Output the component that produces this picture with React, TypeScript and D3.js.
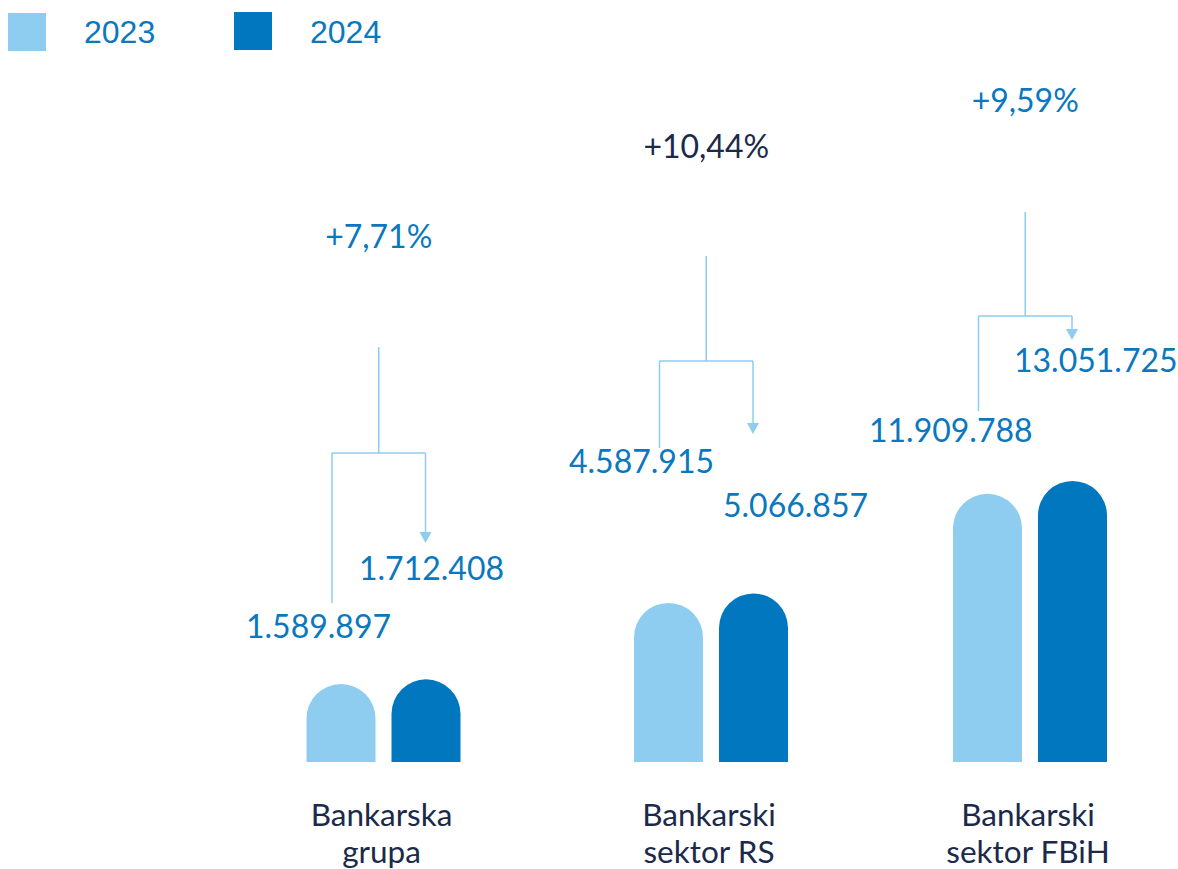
import React from "react";
import * as d3 from "d3";

const categories = ["Bankarska grupa", "Bankarski sektor RS", "Bankarski sektor FBiH"];
const categoryLines = [["Bankarska", "grupa"], ["Bankarski", "sektor RS"], ["Bankarski", "sektor FBiH"]];
const years = ["2023", "2024"];
const values2023 = [1589897, 4587915, 11909788];
const values2024 = [1712408, 5066857, 13051725];
const valueLabels2023 = ["1.589.897", "4.587.915", "11.909.788"];
const valueLabels2024 = ["1.712.408", "5.066.857", "13.051.725"];
const changeLabels = ["+7,71%", "+10,44%", "+9,59%"];

// layout (pixel positions, not data)
const groupCenters = [383.5, 711, 1030];
const annoLayout = [
  { pctY: 248, stemTop: 347, branchY: 453, leftBottom: 603, arrowTip: 543, l23: [246, 638], l24: [359, 580], pctColor: "#0a78be" },
  { pctY: 158, stemTop: 256, branchY: 361, leftBottom: 448, arrowTip: 434, l23: [569, 473], l24: [723, 517], pctColor: "#1b2a4a" },
  { pctY: 112, stemTop: 212, branchY: 316, leftBottom: 411, arrowTip: 340, l23: [869, 442], l24: [1014, 372], pctColor: "#0a78be" },
];

const W = 1178;
const H = 869;
const LIGHT = "#8ecdf0";
const DARK = "#0077be";
const TEXTBLUE = "#0a78be";
const NAVY = "#1b2a4a";
const BASE = 762;
const BW = 69;
const GAP = 16;

export default function App() {
  const x = d3.scaleOrdinal<string, number>().domain(categories).range(groupCenters);
  const all = [...values2023, ...values2024];
  const h = d3.scalePow().exponent(0.4).domain([d3.min(all)!, d3.max(all)!]).range([78, 281]);

  const barPath = (x0: number, v: number) => {
    const top = BASE - h(v);
    const r = BW / 2;
    const p = d3.path();
    p.moveTo(x0, BASE);
    p.lineTo(x0, top + r);
    p.arc(x0 + r, top + r, r, Math.PI, 0);
    p.lineTo(x0 + BW, BASE);
    p.closePath();
    return p.toString();
  };

  return (
    <svg width={W} height={H} style={{ position: "absolute", left: 0, top: 0, background: "#fff" }}>
      {/* legend */}
      <rect x={8} y={13} width={38} height={38} fill={LIGHT} />
      <text x={84} y={43} fontFamily="Liberation Sans, Arial, sans-serif" fontSize={32} fill={TEXTBLUE}>{years[0]}</text>
      <rect x={234} y={12} width={38} height={38} fill={DARK} />
      <text x={310} y={43} fontFamily="Liberation Sans, Arial, sans-serif" fontSize={32} fill={TEXTBLUE}>{years[1]}</text>

      {categories.map((c, i) => {
        const cx = x(c) as number;
        const xl = cx - GAP / 2 - BW;
        const xr = cx + GAP / 2;
        const a = annoLayout[i];
        const lx = xl + BW / 2 - 9;
        const rx = xr + BW / 2 - 0.5;
        const mid = (lx + rx) / 2;
        return (
          <g key={c}>
            <path d={barPath(xl, values2023[i])} fill={LIGHT} />
            <path d={barPath(xr, values2024[i])} fill={DARK} />
            {/* connector */}
            <g stroke={LIGHT} strokeWidth={1.5} fill="none">
              <line x1={mid} y1={a.stemTop} x2={mid} y2={a.branchY} />
              <line x1={lx} y1={a.branchY} x2={rx} y2={a.branchY} />
              <line x1={lx} y1={a.branchY} x2={lx} y2={a.leftBottom} />
              <line x1={rx} y1={a.branchY} x2={rx} y2={a.arrowTip - 9} />
            </g>
            <path d={`M${rx - 6},${a.arrowTip - 11} L${rx + 6},${a.arrowTip - 11} L${rx},${a.arrowTip} Z`} fill={LIGHT} />
            <text x={mid} y={a.pctY} textAnchor="middle" fontFamily="Lato, sans-serif" fontSize={32} fill={a.pctColor}>{changeLabels[i]}</text>
            <text x={a.l23[0]} y={a.l23[1]} fontFamily="Lato, sans-serif" fontSize={32} fill={TEXTBLUE}>{valueLabels2023[i]}</text>
            <text x={a.l24[0]} y={a.l24[1]} fontFamily="Lato, sans-serif" fontSize={32} fill={TEXTBLUE}>{valueLabels2024[i]}</text>
            {categoryLines[i].map((t, j) => (
              <text key={j} x={cx - 2} y={826 + j * 37} textAnchor="middle" fontFamily="Lato, sans-serif" fontSize={31.5} fill={NAVY}>{t}</text>
            ))}
          </g>
        );
      })}
    </svg>
  );
}
